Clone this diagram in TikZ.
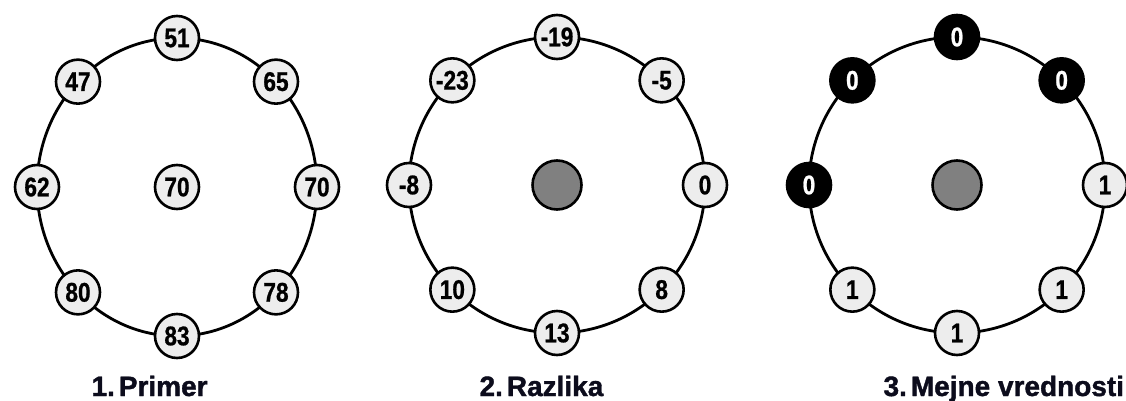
\documentclass[tikz,border=0pt]{standalone}
\usepackage{fontspec}
\setmainfont{Liberation Sans}
\newfontfamily\ringfont{Liberation Sans}[FakeStretch=0.84, BoldFeatures={FakeBold=0.8}]
\newfontfamily\capfont{Liberation Sans}[BoldFeatures={FakeBold=1.4}]
\usetikzlibrary{positioning}
\definecolor{Cell_Gray}{HTML}{EDEDED}
\definecolor{Hub_Gray}{HTML}{808080}
\definecolor{Label_Ink}{HTML}{0C0C1C}

\begin{document}
\begin{tikzpicture}[x=1pt, y=1pt,
    cell/.style={circle, draw, line width=2.6pt, fill=Cell_Gray, minimum size=44pt, inner sep=0pt, font=\ringfont\fontsize{27}{27}\selectfont\bfseries},
    darkcell/.style={cell, fill=black, text=white},
    hub/.style={circle, draw, line width=2.6pt, fill=Hub_Gray, minimum size=49pt, inner sep=0pt},
    ring/.style={line width=2.8pt},
    caption/.style={anchor=base west, text=Label_Ink, text depth=0pt, font=\capfont\fontsize{28}{28}\selectfont\bfseries}]

    \useasboundingbox (0,0) rectangle (1126,400);

    % Panel 1: sample
    \begin{scope}[shift={(177,213)}]
        \draw[ring] (0,0) ellipse [x radius=140, y radius=149];
        \node[cell] (p1c) at (0,0) {70};
        \foreach \ang/\val [count=\i] in {90/51, 45/65, 0/70, -45/78, -90/83, -135/80, 180/62, 135/47}
            \node[cell] (p1n\i) at (\ang:140 and 149) {\val};
    \end{scope}

    % Panel 2: difference
    \begin{scope}[shift={(557,215)}]
        \draw[ring] (0,0) circle [radius=148];
        \node[hub] (p2c) at (0,0) {};
        \foreach \ang/\val [count=\i] in {90/-19, 45/-5, 0/0, -45/8, -90/13, -135/10, 180/-8, 135/-23}
            \node[cell] (p2n\i) at (\ang:148) {\val};
    \end{scope}

    % Panel 3: thresholded values
    \begin{scope}[shift={(957,215)}]
        \draw[ring] (0,0) circle [radius=148];
        \node[hub] (p3c) at (0,0) {};
        \foreach \ang/\val/\sty [count=\i] in {90/0/darkcell, 45/0/darkcell, 0/1/cell, -45/1/cell, -90/1/cell, -135/1/cell, 180/0/darkcell, 135/0/darkcell}
            \node[\sty] (p3n\i) at (\ang:148) {\val};
    \end{scope}

    % Captions
    \node[caption] (cap1) at (88,4) {1.\kern4pt Primer};
    \node[caption] (cap2) at (476,4) {2.\kern4pt Razlika};
    \node[caption] (cap3) at (880,4) {3.\kern4pt Mejne vrednosti};
\end{tikzpicture}
\end{document}
